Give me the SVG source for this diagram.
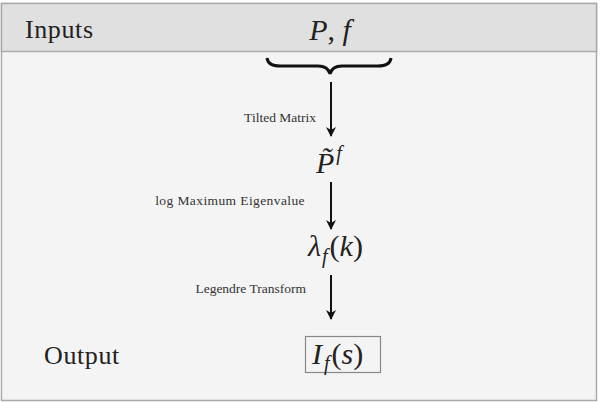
<svg xmlns="http://www.w3.org/2000/svg" width="601" height="402" viewBox="0 0 601 402">
<defs>
<marker id="ah" viewBox="0 0 10 10" refX="9" refY="5" markerWidth="10" markerHeight="10" markerUnits="userSpaceOnUse" orient="auto">
<path d="M0,0 L10,5 L0,10 L3,5 Z" fill="#111"/>
</marker>
<style>
.lbl{font-family:"Liberation Serif",serif;font-size:13.5px;fill:#333}
.big{font-family:"Liberation Serif",serif;font-size:26px;fill:#222;letter-spacing:0.6px}
.math{font-family:"Liberation Serif",serif;font-style:italic;font-size:30px;fill:#222}
.up{font-style:normal}
.sub{font-size:20px}
.conn{stroke:#111;stroke-width:2;fill:none}
</style>
</defs>
<rect x="0" y="0" width="601" height="402" fill="#ffffff"/>
<rect x="1.5" y="3.5" width="595" height="397" fill="#f4f4f4" stroke="#aaa" stroke-width="1.5"/>
<g id="header">
<rect x="1.5" y="3.5" width="595" height="48" fill="#e0e0e0" stroke="#aaa" stroke-width="1.5"/>
<text class="big" x="25" y="38">Inputs</text>
<text class="math" x="330" y="40" text-anchor="middle">P<tspan class="up">, </tspan>f</text>
</g>
<g id="brace">
<path d="M267,58 Q268,66 280,66 L318,66 Q328,66 330,74 Q332,66 342,66 L378,66 Q390,66 391,58" fill="none" stroke="#111" stroke-width="3"/>
</g>
<g id="node-ptilde">
<text class="math" x="316" y="173">P&#x303;<tspan class="sub" dx="2" dy="-13">f</tspan></text>
</g>
<g id="node-lambda">
<text class="math" x="308" y="256">λ<tspan class="sub" dx="1" dy="7">f</tspan><tspan class="up" dx="2" dy="-7">(</tspan>k<tspan class="up">)</tspan></text>
</g>
<g id="node-output">
<rect x="305.5" y="336.5" width="75" height="36" fill="none" stroke="#888" stroke-width="1.2"/>
<text class="math" x="312" y="364">I<tspan class="sub" dx="2" dy="6">f</tspan><tspan class="up" dx="2" dy="-6">(</tspan>s<tspan class="up">)</tspan></text>
</g>
<g id="output-label">
<text class="big" x="44" y="364">Output</text>
</g>
<g id="connectors">
<line class="conn" x1="331" y1="82" x2="331" y2="136" marker-end="url(#ah)"/>
<line class="conn" x1="331" y1="182" x2="331" y2="229" marker-end="url(#ah)"/>
<line class="conn" x1="331" y1="275" x2="331" y2="319" marker-end="url(#ah)"/>
<text class="lbl" x="316" y="122" text-anchor="end">Tilted Matrix</text>
<text class="lbl" x="305" y="205" text-anchor="end" style="letter-spacing:0.4px">log Maximum Eigenvalue</text>
<text class="lbl" x="306" y="293" text-anchor="end">Legendre Transform</text>
</g>
</svg>
